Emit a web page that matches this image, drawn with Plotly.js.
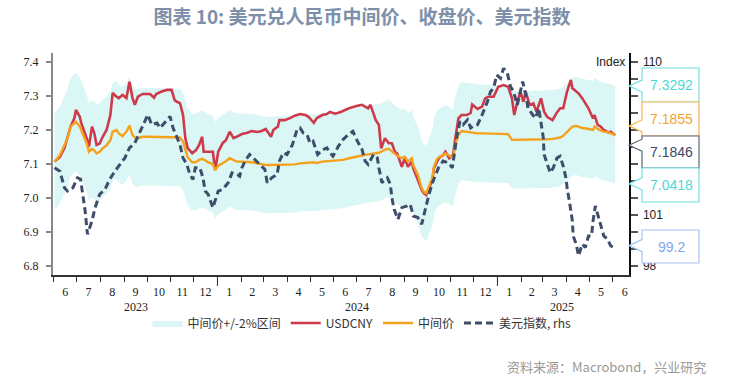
<!DOCTYPE html>
<html>
<head>
<meta charset="utf-8">
<script src="https://cdn.plot.ly/plotly-3.0.1.min.js"></script>
<style>
  html, body { margin: 0; padding: 0; background: #ffffff; }
  #chart { width: 740px; height: 380px; }
</style>
</head>
<body>
<div id="chart"></div>
<script>
// ---------------- DATA ----------------
const fxDates = ["2023-06-02","2023-06-09","2023-06-15","2023-06-19","2023-06-23","2023-06-28","2023-06-30","2023-07-05","2023-07-07","2023-07-14","2023-07-17","2023-07-21","2023-07-24","2023-07-27","2023-07-31","2023-08-04","2023-08-09","2023-08-14","2023-08-17","2023-08-22","2023-08-25","2023-08-30","2023-09-04","2023-09-08","2023-09-12","2023-09-15","2023-09-19","2023-09-25","2023-10-05","2023-10-10","2023-10-13","2023-10-20","2023-10-27","2023-11-02","2023-11-06","2023-11-09","2023-11-13","2023-11-17","2023-11-20","2023-11-23","2023-11-29","2023-12-04","2023-12-08","2023-12-12","2023-12-14","2023-12-20","2023-12-26","2023-12-29","2024-01-02","2024-01-08","2024-01-12","2024-01-17","2024-01-22","2024-01-26","2024-02-02","2024-02-08","2024-02-15","2024-02-22","2024-02-28","2024-03-04","2024-03-11","2024-03-14","2024-03-20","2024-03-22","2024-03-29","2024-04-05","2024-04-11","2024-04-18","2024-04-25","2024-04-29","2024-05-06","2024-05-08","2024-05-10","2024-05-17","2024-05-23","2024-05-27","2024-06-03","2024-06-10","2024-06-13","2024-06-21","2024-07-02","2024-07-08","2024-07-12","2024-07-16","2024-07-19","2024-07-23","2024-07-26","2024-07-30","2024-08-02","2024-08-07","2024-08-12","2024-08-16","2024-08-20","2024-08-23","2024-08-29","2024-09-02","2024-09-06","2024-09-11","2024-09-13","2024-09-19","2024-09-24","2024-09-27","2024-09-30","2024-10-08","2024-10-10","2024-10-14","2024-10-18","2024-10-22","2024-10-25","2024-10-30","2024-11-04","2024-11-07","2024-11-11","2024-11-15","2024-11-22","2024-11-27","2024-11-29","2024-12-06","2024-12-12","2024-12-16","2024-12-20","2024-12-27","2025-01-02","2025-01-09","2025-01-15","2025-01-20","2025-01-23","2025-01-27","2025-01-31","2025-02-04","2025-02-07","2025-02-12","2025-02-17","2025-02-21","2025-02-27","2025-03-03","2025-03-07","2025-03-14","2025-03-19","2025-03-24","2025-03-28","2025-04-02","2025-04-07","2025-04-09","2025-04-14","2025-04-17","2025-04-22","2025-04-25","2025-04-30","2025-05-06","2025-05-08","2025-05-12","2025-05-16","2025-05-20","2025-05-26","2025-05-29","2025-06-02","2025-06-04"];

const usdcny = [7.107,7.121,7.147,7.176,7.210,7.235,7.259,7.239,7.220,7.176,7.151,7.210,7.190,7.156,7.160,7.180,7.200,7.244,7.309,7.298,7.294,7.303,7.294,7.342,7.294,7.274,7.298,7.306,7.306,7.295,7.306,7.313,7.318,7.318,7.288,7.283,7.279,7.244,7.176,7.147,7.132,7.141,7.156,7.180,7.136,7.136,7.136,7.082,7.136,7.162,7.170,7.195,7.176,7.180,7.188,7.191,7.197,7.194,7.197,7.203,7.180,7.200,7.210,7.229,7.229,7.235,7.242,7.247,7.244,7.239,7.221,7.229,7.235,7.244,7.247,7.253,7.248,7.253,7.256,7.264,7.271,7.274,7.269,7.264,7.274,7.244,7.229,7.215,7.146,7.176,7.161,7.161,7.136,7.131,7.092,7.117,7.092,7.107,7.087,7.053,7.024,7.014,7.009,7.053,7.087,7.107,7.121,7.126,7.136,7.117,7.126,7.176,7.234,7.244,7.244,7.250,7.275,7.262,7.269,7.293,7.298,7.298,7.327,7.332,7.327,7.293,7.244,7.283,7.313,7.283,7.313,7.274,7.278,7.254,7.293,7.254,7.239,7.229,7.249,7.264,7.264,7.313,7.347,7.323,7.313,7.308,7.293,7.283,7.264,7.234,7.244,7.215,7.210,7.200,7.193,7.195,7.187,7.1846];

const fixing = [7.107,7.126,7.156,7.176,7.210,7.222,7.224,7.210,7.200,7.161,7.136,7.144,7.140,7.131,7.136,7.146,7.155,7.170,7.195,7.200,7.190,7.182,7.195,7.213,7.185,7.178,7.176,7.180,7.180,7.180,7.180,7.180,7.180,7.179,7.179,7.179,7.178,7.166,7.145,7.120,7.105,7.106,7.112,7.115,7.113,7.105,7.100,7.082,7.095,7.102,7.108,7.117,7.110,7.107,7.107,7.107,7.105,7.102,7.100,7.097,7.097,7.097,7.097,7.097,7.097,7.097,7.099,7.102,7.104,7.105,7.105,7.104,7.103,7.107,7.108,7.109,7.110,7.112,7.112,7.117,7.121,7.125,7.127,7.128,7.130,7.131,7.131,7.133,7.136,7.142,7.145,7.136,7.130,7.124,7.117,7.121,7.107,7.117,7.097,7.068,7.029,7.018,7.014,7.060,7.092,7.115,7.122,7.126,7.131,7.125,7.117,7.156,7.185,7.197,7.195,7.193,7.191,7.190,7.190,7.190,7.190,7.190,7.189,7.189,7.188,7.171,7.171,7.171,7.171,7.171,7.171,7.171,7.171,7.171,7.172,7.172,7.173,7.174,7.176,7.178,7.183,7.195,7.205,7.210,7.212,7.209,7.206,7.205,7.202,7.200,7.210,7.203,7.199,7.195,7.193,7.190,7.187,7.1855];

const dxyDates = ["2023-06-02","2023-06-09","2023-06-15","2023-06-19","2023-06-26","2023-07-02","2023-07-06","2023-07-10","2023-07-12","2023-07-15","2023-07-21","2023-07-25","2023-07-31","2023-08-07","2023-08-13","2023-08-20","2023-08-26","2023-09-02","2023-09-08","2023-09-15","2023-09-22","2023-09-28","2023-10-02","2023-10-07","2023-10-14","2023-10-18","2023-10-22","2023-10-27","2023-10-31","2023-11-04","2023-11-09","2023-11-13","2023-11-17","2023-11-22","2023-11-26","2023-11-30","2023-12-03","2023-12-09","2023-12-13","2023-12-16","2023-12-20","2023-12-26","2024-01-02","2024-01-08","2024-01-15","2024-01-20","2024-01-27","2024-01-30","2024-02-02","2024-02-06","2024-02-12","2024-02-19","2024-02-26","2024-03-03","2024-03-06","2024-03-12","2024-03-19","2024-03-22","2024-03-27","2024-04-01","2024-04-08","2024-04-14","2024-04-18","2024-04-22","2024-04-27","2024-05-01","2024-05-05","2024-05-11","2024-05-18","2024-05-23","2024-05-27","2024-05-31","2024-06-07","2024-06-13","2024-06-20","2024-06-26","2024-07-02","2024-07-08","2024-07-12","2024-07-16","2024-07-23","2024-07-28","2024-07-30","2024-08-03","2024-08-10","2024-08-14","2024-08-16","2024-08-19","2024-08-24","2024-08-29","2024-09-05","2024-09-09","2024-09-13","2024-09-19","2024-09-24","2024-09-28","2024-10-03","2024-10-08","2024-10-12","2024-10-16","2024-10-22","2024-10-29","2024-11-03","2024-11-06","2024-11-09","2024-11-13","2024-11-17","2024-11-23","2024-11-27","2024-11-30","2024-12-06","2024-12-12","2024-12-19","2024-12-23","2024-12-27","2024-12-31","2025-01-05","2025-01-09","2025-01-14","2025-01-18","2025-01-22","2025-01-27","2025-01-31","2025-02-03","2025-02-07","2025-02-10","2025-02-16","2025-02-20","2025-02-24","2025-02-27","2025-03-02","2025-03-03","2025-03-07","2025-03-11","2025-03-15","2025-03-20","2025-03-24","2025-03-28","2025-04-01","2025-04-02","2025-04-05","2025-04-09","2025-04-10","2025-04-14","2025-04-17","2025-04-22","2025-04-26","2025-04-30","2025-05-04","2025-05-06","2025-05-09","2025-05-12","2025-05-17","2025-05-20","2025-05-25","2025-05-29","2025-06-02","2025-06-03"];

const dxy = [103.78,103.58,102.60,102.41,102.60,103.19,103.10,102.00,101.24,99.87,100.65,101.43,102.21,102.51,103.09,103.58,103.97,104.36,104.95,105.24,105.92,106.50,106.90,106.31,106.41,106.12,106.31,106.60,106.80,106.12,105.53,105.14,104.36,103.97,103.38,103.09,103.78,103.78,103.19,102.41,102.21,101.43,102.41,102.51,102.90,103.48,103.38,103.28,103.78,104.17,104.56,104.26,103.97,103.68,102.90,103.19,103.38,104.17,104.66,104.56,105.14,106.02,106.12,105.83,105.73,105.24,105.34,104.56,104.85,104.95,104.66,104.46,105.04,105.43,105.73,105.92,105.34,104.85,104.17,103.97,104.56,104.36,103.78,102.90,103.19,102.80,102.02,101.33,100.75,101.43,101.53,101.63,100.94,100.85,100.46,101.24,102.12,102.90,103.38,103.78,104.17,104.07,103.78,104.75,105.63,106.50,106.31,106.60,106.12,106.21,106.31,106.90,107.68,108.26,108.46,109.24,109.04,109.63,109.34,108.56,108.26,107.48,108.26,108.85,108.07,107.29,106.90,106.70,107.29,106.50,105.53,104.56,103.97,103.48,103.78,104.36,104.46,103.87,103.09,102.60,101.82,100.65,99.77,99.29,98.60,99.29,99.09,99.77,99.77,100.65,101.53,101.04,100.36,99.77,99.58,99.19,99.09,99.20];

const BAND_PCT = 0.02;   // fixing +/- 2%
const upperBand = fixing.map(v => v * (1 + BAND_PCT));
const lowerBand = fixing.map(v => v * (1 - BAND_PCT));

const seriesNames = ["中间价+/-2%区间", "USDCNY", "中间价", "美元指数, rhs"];
const yearLabels = ["2023", "2024", "2025"];
const yearLabelDates = ["2023-09-16", "2024-07-01", "2025-03-27"];
const yearBoundaries = ["2024-01-01", "2025-01-01"];
// right-axis ticks: labels that sit behind the value boxes are left blank
const rhsTickVals = [98, 99, 100, 101, 102, 103, 104, 105, 106, 107, 108, 109, 110];
const rhsTickText = ["98", "", "", "101", "", "", "", "", "", "", "", "", "110"];

// ---------------- LAYOUT GEOMETRY ----------------
const L = 53, T = 53, W = 576, H = 222;
const yRange = [6.7735, 7.4265];
const y2Range = [97.47, 110.53];
const px2paperX = px => (px - L) / W;
const py2paperY = py => (T + H - py) / H;
const val2py = (v, r) => T + H * (r[1] - v) / (r[1] - r[0]);

const COL = {
  band: "#daf6f5", red: "#CE3A4C", orange: "#F5A11C", dark: "#3E4D6A",
  cyanText: "#4fd6d6", cyanLine: "#6fe0df",
  orText: "#F2A332", orLine: "#F6B54E",
  dkText: "#3c4862", dkLine: "#5d667b",
  blText: "#7fa6ee", blLine: "#a6c2f4"
};

// ---------------- TRACES ----------------
const traces = [
  { x: fxDates, y: lowerBand, type: "scatter", mode: "lines", line: { width: 0, color: COL.band },
    showlegend: false, hoverinfo: "skip" },
  { x: fxDates, y: upperBand, type: "scatter", mode: "lines", line: { width: 0, color: COL.band },
    fill: "tonexty", fillcolor: COL.band, name: seriesNames[0], hoverinfo: "skip" },
  { x: fxDates, y: usdcny, type: "scatter", mode: "lines", name: seriesNames[1],
    line: { color: COL.red, width: 2.6 } },
  { x: fxDates, y: fixing, type: "scatter", mode: "lines", name: seriesNames[2],
    line: { color: COL.orange, width: 2.4 } },
  { x: dxyDates, y: dxy, type: "scatter", mode: "lines", name: seriesNames[3], yaxis: "y2",
    line: { color: COL.dark, width: 3, dash: "7px,4px" } }
];

// ---------------- CALLOUTS ----------------
const last = a => a[a.length - 1];
const callouts = [
  { v: last(upperBand), r: yRange, txt: last(upperBand).toFixed(4), top: 68, bot: 102, shift: 0, tc: COL.cyanText, lc: COL.cyanLine },
  { v: last(fixing), r: yRange, txt: last(fixing).toFixed(4), top: 102, bot: 136, shift: -9, tc: COL.orText, lc: COL.orLine },
  { v: last(usdcny), r: yRange, txt: last(usdcny).toFixed(4), top: 136, bot: 168, shift: 10, tc: COL.dkText, lc: COL.dkLine },
  { v: last(lowerBand), r: yRange, txt: last(lowerBand).toFixed(4), top: 168, bot: 202, shift: 0, tc: COL.cyanText, lc: COL.cyanLine },
  { v: last(dxy), r: y2Range, txt: last(dxy).toFixed(1), top: 230, bot: 263, shift: 0, tc: COL.blText, lc: COL.blLine }
];
const boxL = 642, boxR = 699, tipX = 629;
const shapes = [];
const annotations = [];
callouts.forEach(c => {
  const tipY = val2py(c.v, c.r) + c.shift;
  const nc = Math.max(c.top + 6, Math.min(c.bot - 6, tipY));
  const P = (px, py) => px2paperX(px).toFixed(5) + "," + py2paperY(py).toFixed(5);
  const path = "M" + P(boxL, c.top) + " L" + P(boxR, c.top) + " L" + P(boxR, c.bot) +
    " L" + P(boxL, c.bot) + " L" + P(boxL, nc + 6) + " L" + P(tipX, tipY) + " L" + P(boxL, nc - 6) + " Z";
  shapes.push({ type: "path", xref: "paper", yref: "paper", path: path,
    fillcolor: "#ffffff", line: { color: c.lc, width: 1.2 }, layer: "above" });
  annotations.push({ xref: "paper", yref: "paper", x: px2paperX((boxL + boxR) / 2 + 1), y: py2paperY((c.top + c.bot) / 2),
    text: c.txt, showarrow: false, xanchor: "center", yanchor: "middle",
    font: { family: "Liberation Sans, Arial, sans-serif", size: 14, color: c.tc } });
});

// year boundary ticks
yearBoundaries.forEach(d => {
  shapes.push({ type: "line", xref: "x", yref: "paper", x0: d, x1: d, y0: 0, y1: -11 / H,
    line: { color: "#333", width: 1 } });
});
// year labels
yearLabels.forEach((t, i) => {
  annotations.push({ xref: "x", yref: "paper", x: yearLabelDates[i], y: py2paperY(307),
    text: t, showarrow: false, xanchor: "center", yanchor: "middle",
    font: { family: "Liberation Serif, Times New Roman, serif", size: 12, color: "#222" } });
});
// Index label
annotations.push({ xref: "paper", yref: "paper", x: px2paperX(627), y: py2paperY(62), text: "Index",
  showarrow: false, xanchor: "right", yanchor: "middle",
  font: { family: "Liberation Sans, Arial, sans-serif", size: 12, color: "#222" } });
// Source
annotations.push({ xref: "paper", yref: "paper", x: px2paperX(708), y: py2paperY(366),
  text: "资料来源：Macrobond，兴业研究", showarrow: false, xanchor: "right", yanchor: "middle",
  font: { family: "Noto Sans CJK SC, sans-serif", size: 13, color: "#9a9a9a" } });

const layout = {
  width: 740, height: 380,
  margin: { l: L, r: 740 - L - W, t: T, b: 380 - T - H, pad: 0 },
  paper_bgcolor: "#ffffff", plot_bgcolor: "#ffffff",
  title: { text: "<b>图表 10: 美元兑人民币中间价、收盘价、美元指数</b>",
    font: { family: "Noto Sans CJK SC, sans-serif", size: 19, color: "#7d8fa9" },
    x: 362 / 740, xanchor: "center", xref: "container", y: 1 - 17 / 380, yref: "container", yanchor: "middle" },
  showlegend: true,
  legend: { orientation: "h", x: px2paperX(362), xanchor: "center", y: py2paperY(323), yanchor: "middle",
    font: { family: "Noto Sans CJK SC, sans-serif", size: 12, color: "#333" },
    itemwidth: 30, bgcolor: "rgba(0,0,0,0)", traceorder: "normal" },
  xaxis: { type: "date", range: ["2023-05-31", "2025-06-22"], dtick: "M1", tick0: "2023-06-01",
    tickformat: "%-m", ticklabelmode: "period", ticks: "outside", ticklen: 5, tickwidth: 1,
    tickcolor: "#333", showline: true, linecolor: "#333", linewidth: 1.5, showgrid: false, zeroline: false,
    tickfont: { family: "Liberation Serif, Times New Roman, serif", size: 12, color: "#222" } },
  yaxis: { range: yRange, dtick: 0.1, tick0: 6.8, tickformat: ".1f", ticks: "outside", ticklen: 5,
    tickwidth: 2, tickcolor: "#888", showline: true, linecolor: "#888", linewidth: 2,
    showgrid: false, zeroline: false, ticklabelstandoff: 5,
    tickfont: { family: "Liberation Serif, Times New Roman, serif", size: 12, color: "#222" } },
  yaxis2: { range: y2Range, overlaying: "y", side: "right", tickmode: "array",
    tickvals: rhsTickVals, ticktext: rhsTickText, ticks: "outside",
    ticklen: 7, tickwidth: 1.5, tickcolor: "#555", showline: true, linecolor: "#111", linewidth: 1.5,
    showgrid: false, zeroline: false, ticklabelstandoff: 3,
    tickfont: { family: "Liberation Sans, Arial, sans-serif", size: 12, color: "#222" } },
  shapes: shapes,
  annotations: annotations
};

Plotly.newPlot("chart", traces, layout, { displayModeBar: false, staticPlot: true });
</script>
</body>
</html>
